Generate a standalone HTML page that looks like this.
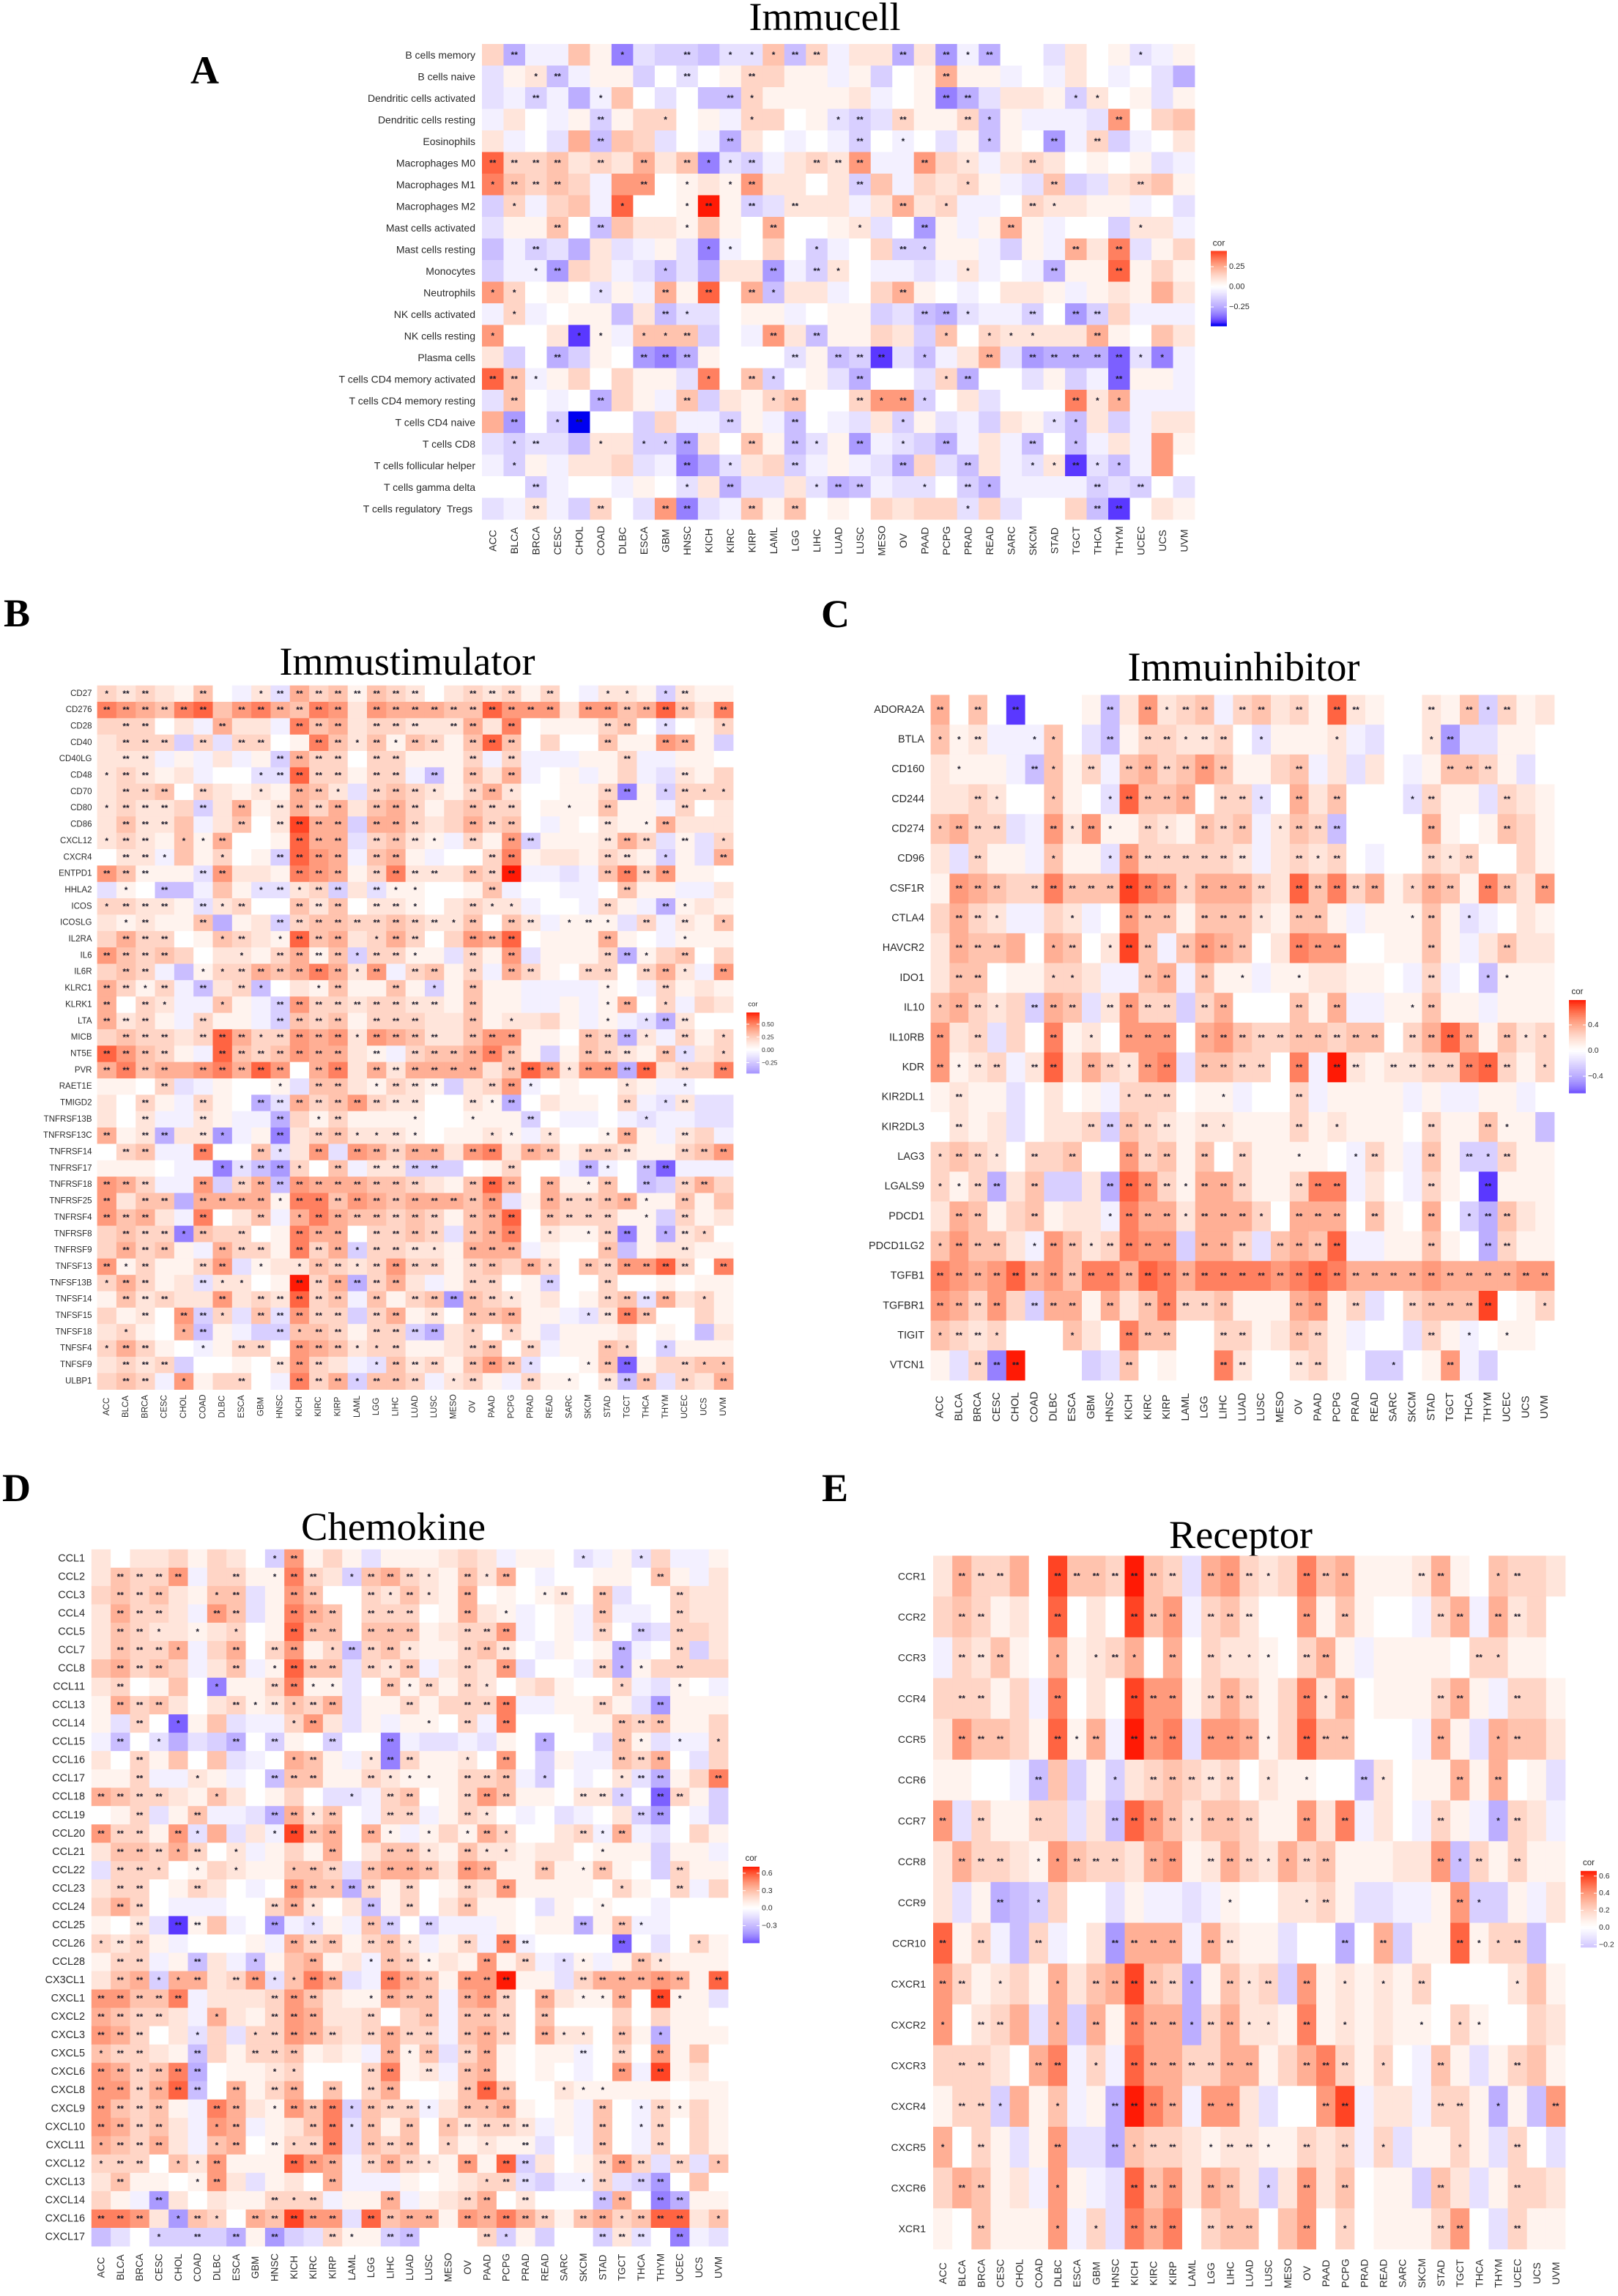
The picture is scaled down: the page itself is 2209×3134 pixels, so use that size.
<!DOCTYPE html>
<html lang="en">
<head>
<meta charset="utf-8">
<title>Immune correlation heatmaps</title>
<style>
html,body{margin:0;padding:0;background:#fff;}
svg{display:block;}
text{font-family:"Liberation Sans",sans-serif;fill:#2a2a2a;}
.serif{font-family:"Liberation Serif",serif;fill:#000;}
</style>
</head>
<body>
<svg id="figure" xmlns="http://www.w3.org/2000/svg" width="2209" height="3134" viewBox="0 0 2209 3134">
<rect x="0" y="0" width="2209" height="3134" fill="#fff"/>
<text class="serif" x="260" y="114" font-size="54" font-weight="bold">A</text>
<text class="serif" x="5" y="855" font-size="54" font-weight="bold">B</text>
<text class="serif" x="1121" y="856" font-size="54" font-weight="bold">C</text>
<text class="serif" x="3" y="2049" font-size="54" font-weight="bold">D</text>
<text class="serif" x="1122" y="2049" font-size="54" font-weight="bold">E</text>
<text class="serif" x="1126" y="41" font-size="54" text-anchor="middle" textLength="207" lengthAdjust="spacingAndGlyphs">Immucell</text>
<text class="serif" x="556" y="921" font-size="54" text-anchor="middle" textLength="349" lengthAdjust="spacingAndGlyphs">Immustimulator</text>
<text class="serif" x="1698" y="929" font-size="56" text-anchor="middle" textLength="317" lengthAdjust="spacingAndGlyphs">Immuinhibitor</text>
<text class="serif" x="537" y="2102" font-size="54" text-anchor="middle" textLength="252" lengthAdjust="spacingAndGlyphs">Chemokine</text>
<text class="serif" x="1694" y="2113" font-size="54" text-anchor="middle" textLength="196" lengthAdjust="spacingAndGlyphs">Receptor</text>
</svg>
<script>
/* Column categories shared by all heatmaps */
const cancerTypes = ["ACC","BLCA","BRCA","CESC","CHOL","COAD","DLBC","ESCA","GBM","HNSC","KICH","KIRC","KIRP","LAML","LGG","LIHC","LUAD","LUSC","MESO","OV","PAAD","PCPG","PRAD","READ","SARC","SKCM","STAD","TGCT","THCA","THYM","UCEC","UCS","UVM"];

/* Cell values are in tenths of each panel's colour limit; star strings hold 0/1/2 significance marks per column */
const immucellRows = ["B cells memory","B cells naive","Dendritic cells activated","Dendritic cells resting","Eosinophils","Macrophages M0","Macrophages M1","Macrophages M2","Mast cells activated","Mast cells resting","Monocytes","Neutrophils","NK cells activated","NK cells resting","Plasma cells","T cells CD4 memory activated","T cells CD4 memory resting","T cells CD4 naive","T cells CD8","T cells follicular helper","T cells gamma delta","T cells regulatory \u00a0Tregs\u00a0"];
const immucellValues = [
[3,-5,-1,-1,4,1,-7,-2,-3,-3,-4,-2,-2,4,-4,3,-1,2,2,-5,2,-6,-1,-5,0,0,-2,2,0,1,-2,-1,1],
[-2,1,2,-4,-1,1,1,-3,0,-2,0,1,3,3,1,1,-1,1,-3,0,1,5,1,1,-1,0,-1,2,0,-1,0,-2,-5],
[-2,-1,-3,-1,-5,-1,4,0,-2,0,-4,-4,3,1,1,1,1,2,-1,0,1,-7,-5,-2,2,2,1,-3,2,0,1,-2,1],
[-1,2,0,-1,1,-3,1,3,3,0,1,-1,3,3,0,1,-2,-3,-2,3,1,1,3,-4,1,-1,-1,-1,-2,6,0,3,4],
[2,-1,0,-2,5,-4,4,3,-2,0,-1,-5,2,0,-1,0,-1,-3,0,-1,0,-2,1,-4,1,0,-6,-1,3,-3,-1,0,2],
[8,3,3,4,2,3,2,5,2,4,-7,-2,-3,-1,2,3,2,6,-1,-1,6,3,2,-1,2,3,2,0,1,0,1,-2,-1],
[7,4,3,4,3,-1,6,6,0,1,2,1,6,2,2,0,2,-3,4,-1,3,2,3,1,-1,-2,4,-3,-2,2,3,4,1],
[-3,3,-1,3,4,-1,8,0,0,1,10,1,-3,-2,2,2,2,-1,2,5,2,3,-1,-1,0,3,2,2,1,1,-1,0,-2],
[-2,1,1,4,0,-4,4,2,2,1,4,1,0,5,0,0,1,2,-2,0,-6,1,-1,1,5,1,-1,0,0,-3,2,2,-1],
[-4,-1,-3,-2,-5,2,-2,-1,1,-2,-7,-1,0,3,0,-3,-1,0,3,-3,-3,1,1,-1,-3,1,-1,5,2,7,-2,1,3],
[-3,-1,-1,-6,3,2,-1,-2,-4,-2,-5,2,2,-6,-1,-3,2,0,-1,-1,-2,-1,2,-1,0,-1,-5,1,1,8,1,3,1],
[6,3,0,1,0,-2,1,-1,5,1,8,0,5,-4,2,2,-1,0,3,5,1,0,-1,0,2,2,1,-1,1,2,1,5,2],
[-1,3,-1,0,1,1,-4,2,-4,-2,-2,0,1,1,-1,0,1,1,-3,-2,-4,-5,-2,-1,-1,-3,0,-6,-3,3,-1,-1,-1],
[6,0,0,2,-9,1,-1,4,4,4,-3,0,-1,6,2,-4,1,1,3,2,-3,4,0,3,2,2,2,2,5,1,0,4,2],
[2,-3,0,-5,-3,1,0,-6,-7,-5,1,0,0,0,-2,1,-4,-3,-9,-2,-4,-1,2,5,-2,-6,-5,-5,-5,-8,-2,-7,-1],
[8,4,-1,1,3,0,3,1,1,-2,7,0,4,-3,0,1,-2,-5,0,0,-2,3,-5,0,0,-2,1,-3,-1,-8,1,1,-1],
[-2,4,0,-1,0,-5,3,1,-1,4,-3,2,1,3,4,0,0,3,6,6,-3,0,2,-2,0,0,0,7,2,5,-1,-1,-1],
[5,-6,0,-3,-10,0,0,-3,3,-1,-1,-3,1,-1,-4,0,-1,-2,2,-3,1,-2,-1,-3,2,1,-2,-4,2,-3,-1,2,2],
[-2,-3,-2,-2,-4,2,2,-3,-3,-6,2,0,4,1,-4,-2,1,-6,-1,-2,-3,-5,-1,2,-1,-4,0,-4,-1,2,-1,6,1],
[-1,-3,1,-1,2,2,3,-2,-1,-7,-5,-2,2,3,-3,-1,1,-1,-2,-5,3,-2,-4,2,-1,-2,2,-9,-2,-4,-1,6,0],
[0,0,-3,-1,0,0,-1,1,0,-2,2,-5,-2,-2,2,-2,-5,-4,-1,-2,-2,0,-3,-5,-1,-1,-1,-1,-3,-2,-3,0,-2],
[-2,-1,2,-1,-3,3,0,-2,6,-7,-2,-1,4,1,4,0,1,0,3,2,3,3,-2,3,-2,0,0,3,-4,-9,0,2,1]
];
const immucellStars = [
"02000010020 11122000202 12000000100","00120000020 02000000002 00000000000","00200100000 21000000002 20000110000","00000200100 01000120200 21000002000","00000200000 20000020100 01002020000","22220202021 12002220020 10020000000","12220002010 12000020000 10002000200","01000010012 02020000201 00021000000","00020200010 00200010020 00200000100","00200000001 10001000210 00000202000","00120000100 00202100000 10002002000","11000100202 02100000200 00000000000","01000000210 00000000022 10020220000","10001101120 00202000001 01110020000","00020002220 00020222010 02022222110","22100000001 02100020001 20000002000","02000200020 00120021210 00000211000","02012000000 20020000100 00001100000","01200101120 02021020102 00020100000","01000000020 10020000200 20011211000","00200000010 20001220010 21000020200","00200200220 02020000000 10000022000"
];

const immustimulatorRows = ["CD27","CD276","CD28","CD40","CD40LG","CD48","CD70","CD80","CD86","CXCL12","CXCR4","ENTPD1","HHLA2","ICOS","ICOSLG","IL2RA","IL6","IL6R","KLRC1","KLRK1","LTA","MICB","NT5E","PVR","RAET1E","TMIGD2","TNFRSF13B","TNFRSF13C","TNFRSF14","TNFRSF17","TNFRSF18","TNFRSF25","TNFRSF4","TNFRSF8","TNFRSF9","TNFSF13","TNFSF13B","TNFSF14","TNFSF15","TNFSF18","TNFSF4","TNFSF9","ULBP1"];
const immustimulatorValues = [
[3,2,3,2,1,4,0,-1,2,-2,5,3,4,1,4,3,2,0,2,3,2,3,1,3,0,-1,2,2,1,-3,2,1,1],
[7,6,5,4,7,8,4,6,7,5,4,7,6,2,6,5,5,5,4,4,8,6,6,6,2,6,6,4,5,8,4,2,7],
[3,3,3,0,2,-1,5,2,2,-1,7,4,5,2,3,3,2,2,2,5,2,7,0,1,1,1,3,4,0,-2,0,1,3],
[2,3,3,3,-3,3,-2,3,3,0,1,7,4,2,4,1,4,3,1,4,8,4,0,3,0,0,4,1,1,6,5,1,-3],
[2,2,2,-1,1,-1,2,-1,1,-3,5,3,3,0,3,3,1,1,1,3,-1,3,-1,-1,-1,1,1,3,-1,-1,1,1,0],
[2,3,2,1,2,-1,0,0,-2,-2,8,3,3,1,3,3,-1,-4,1,4,2,5,-1,0,1,-1,1,3,-1,-2,2,1,3],
[2,3,3,4,0,3,2,1,2,1,5,4,2,-2,3,4,3,2,1,3,5,2,0,0,1,1,3,-7,1,-3,3,3,3],
[2,3,2,2,3,-3,2,5,1,2,5,3,5,2,4,5,3,1,3,4,3,3,0,1,1,1,4,1,1,-1,3,0,2],
[2,4,2,2,4,-1,2,4,0,2,9,5,5,-3,5,5,3,2,3,5,3,4,0,-1,1,0,2,1,1,5,2,2,2],
[2,3,2,1,4,1,5,0,0,1,8,5,5,-2,3,4,2,1,-1,3,1,6,-3,1,1,1,2,5,3,-2,1,-2,3],
[0,2,2,-1,4,1,3,0,1,-3,8,6,5,-1,4,5,1,-1,0,0,3,7,1,2,2,1,3,2,1,-3,1,-2,5],
[6,4,1,1,1,-2,6,2,2,1,7,6,5,1,3,7,2,2,2,4,3,10,-1,-1,-2,-1,4,7,3,6,1,1,0],
[-2,1,0,-4,-4,-1,4,1,-2,-2,2,3,-3,2,-2,1,1,0,0,1,4,-1,0,0,-1,-1,0,4,1,1,-1,-1,2],
[3,3,2,2,1,-2,2,3,0,0,4,2,4,0,2,2,1,0,2,3,2,2,-1,0,0,-1,3,1,-1,-5,1,2,1],
[2,1,2,1,1,4,-5,1,2,-3,3,4,4,3,3,4,3,2,2,4,0,4,2,-1,1,1,1,-2,3,-1,2,1,4],
[3,5,3,3,0,1,4,3,2,1,8,4,5,2,3,5,3,0,3,6,5,8,0,1,1,1,5,1,0,-1,1,1,1],
[6,4,3,4,3,0,2,2,1,3,5,1,4,-3,3,3,1,1,-2,3,1,6,-2,1,1,1,3,-5,1,3,4,0,3],
[3,4,3,-1,-4,1,3,3,5,4,5,7,5,2,6,-1,3,4,1,3,-1,5,3,1,0,3,3,0,3,5,2,-1,6],
[5,3,1,3,-1,-4,2,3,-4,0,2,1,4,1,1,4,1,-3,1,4,1,1,-1,-1,-1,-1,1,0,-1,3,1,2,1],
[5,0,3,2,-1,-1,4,1,-1,-3,6,3,3,2,3,3,2,2,1,4,1,1,-1,-1,1,-1,1,5,0,3,-1,3,2],
[5,2,3,1,-1,3,1,1,-1,-3,4,3,4,1,3,3,3,2,2,4,1,2,2,3,1,-1,1,-1,-2,-5,2,0,0],
[3,4,3,3,2,3,8,5,3,3,6,5,6,2,6,5,4,2,2,4,6,6,1,1,0,4,3,-5,2,-1,3,1,3],
[8,6,4,3,1,-1,8,4,3,4,6,5,5,2,1,-1,3,4,4,5,7,4,1,-3,1,4,3,2,1,4,-2,2,3],
[5,7,4,5,5,6,7,5,8,6,0,5,7,2,5,2,5,5,5,5,2,4,8,6,2,6,6,-5,8,2,3,3,7],
[1,1,0,3,-2,-1,1,0,0,1,-2,4,4,2,1,3,2,1,-3,2,3,6,-1,0,1,0,0,2,1,-1,-1,0,0],
[2,0,3,1,-1,3,1,0,-5,-2,5,3,4,6,3,2,2,0,0,2,1,-5,0,2,1,1,0,3,-1,-2,2,-2,-2],
[2,0,2,-1,-1,2,1,-1,-1,-5,3,1,3,1,1,1,1,0,0,1,1,1,-3,0,-1,-1,0,-1,-2,-1,-1,-2,-2],
[5,1,2,-5,2,2,-6,-1,1,-7,2,3,4,2,2,2,1,0,1,1,2,1,-1,2,0,0,1,5,1,-1,2,3,-1],
[0,3,4,-1,-1,7,0,0,4,-2,2,6,-2,6,5,3,5,5,2,6,7,2,5,4,1,3,3,2,1,1,3,4,6],
[1,1,1,0,-1,-1,-7,-2,-4,-6,3,0,4,-1,2,2,-3,-3,-3,0,1,3,0,0,-1,-5,-1,0,-4,-8,-1,-1,-1],
[6,5,3,-1,-1,6,-3,3,5,-4,6,5,5,5,4,4,3,2,1,4,8,5,0,5,1,1,4,0,-4,-3,3,5,3],
[6,2,4,4,-5,5,5,5,5,1,7,7,4,6,5,4,5,5,5,4,6,-2,1,5,3,3,4,5,1,1,4,1,4],
[6,4,5,2,-1,7,0,2,4,-1,5,7,5,4,4,3,4,3,1,4,5,8,0,4,3,3,3,1,1,-3,3,1,2],
[3,4,3,3,-7,4,3,3,0,1,7,5,5,0,3,3,4,3,-2,4,5,7,0,2,1,1,3,-7,1,-5,2,3,0],
[3,5,3,4,1,-1,5,3,3,1,7,3,5,-3,3,3,2,2,1,5,5,5,-1,1,0,0,4,-4,1,2,2,1,1],
[6,1,3,1,1,3,6,-2,1,2,2,4,3,2,3,6,3,3,1,3,4,3,5,3,0,4,3,6,6,8,3,0,7],
[3,5,3,1,2,-2,2,2,0,1,10,3,5,-5,3,5,2,-1,1,3,3,0,1,-3,0,0,3,0,0,1,0,1,1],
[1,4,2,3,2,2,6,2,3,2,8,3,4,-1,4,1,3,4,-6,4,3,2,1,2,0,1,3,4,-2,5,2,3,1],
[3,1,2,0,6,-3,3,-2,4,-2,6,3,3,-3,3,5,1,2,0,4,4,5,1,1,-1,-2,2,7,4,0,0,3,1],
[2,3,1,0,5,-4,1,-1,-3,-3,4,4,3,1,3,3,-3,-5,2,3,0,3,1,-2,1,1,1,2,0,1,0,-4,2],
[3,5,3,1,0,-1,1,3,3,0,6,5,4,2,3,3,1,1,2,3,4,0,3,-1,1,1,4,3,0,-3,1,1,1],
[2,3,2,3,-3,0,0,1,0,2,6,3,2,-1,-2,4,2,3,1,4,6,4,-2,0,0,1,4,-8,1,3,3,4,4],
[3,4,3,-1,6,1,3,3,0,-1,7,3,5,-3,4,4,3,-1,2,3,1,-1,3,1,1,0,2,-4,4,-2,3,2,5]
];
const immustimulatorStars = [
"12200200122 22222200222 02001101200","22222202222 22022222222 22022222202","02200020002 22022202202 00002201001","02220202200 22121220222 00002002200","02200000022 22022000202 00000200000","12200000122 22022020202 00000000200","02220200102 21022210221 00002201211","12220202022 22022200222 00102000200","02220002022 22022200222 00002012000","12201120002 22022210202 20002220201","02210010022 22022000022 00002201002","22200220002 22022220222 00002222000","01020000121 22021100020 00000200000","12220212002 22022100211 00002002100","01200200022 22222221202 20121020201","02220012012 22012200222 00002000100","22220001022 22122100202 00002210200","02200112222 22120220202 20022022102","22120202100 12002010200 00001002000","20210010022 22222220200 00001201000","22200200022 22022200201 00001012200","02220222122 22122220222 00022210201","22220022222 22020222222 00022202101","22220222220 22022222202 22122220202","00020000010 22012220022 10000100100","00200200222 22222200212 00000201200","00200200020 12000100100 20000010000","20220210020 22112100011 01001200200","02200200210 20222220220 22022200222","00000011221 02022220002 00021022000","22200202222 22222200222 02012020220","20220222212 22222222220 02222210200","22200200201 22222220222 02222010200","02221202002 22022220222 01012201210","02220022202 22122210222 00002000200","21200220101 22122220220 21022222202","12200211002 22222000220 02002000000","02220020222 22020222221 00002222010","00202210222 22022020222 00012220000","01001200021 22022220101 00000000000","12200102202 22112000220 20002101000","02220000022 20012220222 10012200211","02201002002 22122201200 20102220202"
];

const immuinhibitorRows = ["ADORA2A","BTLA","CD160","CD244","CD274","CD96","CSF1R","CTLA4","HAVCR2","IDO1","IL10","IL10RB","KDR","KIR2DL1","KIR2DL3","LAG3","LGALS9","PDCD1","PDCD1LG2","TGFB1","TGFBR1","TIGIT","VTCN1"];
const immuinhibitorValues = [
[5,0,4,0,-9,0,0,0,1,-4,2,6,2,3,4,-1,3,4,2,3,1,8,2,1,0,0,2,1,4,-3,3,1,2],
[4,1,2,-1,-1,-1,4,0,-2,-4,1,3,3,2,2,3,0,-2,1,1,1,2,-1,-2,0,0,2,-6,-2,-2,1,1,0],
[2,1,1,1,-1,-4,4,1,3,-1,4,5,3,4,6,4,1,1,3,4,-1,2,-2,2,0,-1,1,4,4,3,1,-2,0],
[2,2,3,2,0,0,4,1,0,-2,8,4,4,5,0,3,3,-2,0,5,2,4,0,0,0,-2,3,1,1,-2,3,2,1],
[4,5,3,3,-2,-1,6,2,6,1,1,3,2,1,4,3,4,-1,2,4,3,-4,0,0,0,0,5,1,0,1,4,3,1],
[2,-2,3,1,1,-1,4,1,1,-2,6,3,3,3,3,3,2,-1,2,3,2,3,0,-1,0,0,3,2,3,0,0,3,1],
[1,6,5,4,3,3,7,4,4,4,9,7,6,3,5,5,5,3,2,8,4,7,3,5,1,3,5,4,1,7,4,2,6],
[3,5,3,2,-1,-1,3,2,-1,0,6,4,4,1,4,4,4,2,1,4,4,1,-1,1,1,1,4,1,-2,-1,0,2,1],
[2,5,4,4,5,0,5,4,0,2,9,4,-1,4,6,5,4,0,2,7,6,6,0,0,1,1,4,1,-1,2,4,2,2],
[2,4,4,0,1,1,3,3,2,-1,-1,4,5,-1,4,1,1,-1,1,1,2,2,1,1,0,-1,3,-1,0,-4,1,1,1],
[4,5,3,2,3,-3,5,4,-2,2,6,3,3,-3,3,5,0,0,0,4,1,5,-1,-1,1,1,4,1,1,-1,1,1,1],
[6,2,3,-2,3,0,7,1,2,0,6,6,6,0,5,6,4,3,3,4,4,3,4,4,0,3,5,8,5,1,4,2,3],
[6,1,2,3,-1,2,8,2,5,3,2,6,7,-2,4,4,3,3,0,7,-1,10,2,1,2,2,3,3,7,8,3,1,3],
[1,2,1,1,-2,0,2,0,1,-1,3,3,3,0,1,1,-1,0,0,3,-1,1,1,1,1,-1,1,-1,-1,1,1,-1,0],
[0,2,1,2,-2,0,2,2,3,-3,4,3,2,1,2,2,1,1,1,3,1,2,1,1,1,0,3,1,1,4,1,1,-4],
[3,4,3,2,0,3,3,4,0,0,6,3,4,1,4,0,3,1,1,1,1,0,-1,3,1,-1,4,1,-3,-3,3,1,1],
[3,1,3,-5,2,4,-3,-3,2,-5,8,6,3,1,5,5,3,1,1,3,7,7,-1,2,0,-1,3,1,0,-9,1,1,1],
[2,5,4,1,3,4,1,2,2,-1,7,5,5,2,5,5,5,3,0,5,5,5,0,4,1,0,5,0,-3,-5,4,2,1],
[4,6,4,4,2,-1,6,4,2,3,7,6,6,-3,5,5,3,-2,4,5,4,8,-1,-1,1,1,4,1,0,-5,3,1,1],
[7,6,5,6,8,5,6,4,7,7,5,8,7,5,7,7,7,7,6,7,8,7,5,5,5,5,6,5,5,5,5,6,6],
[6,5,3,6,3,-3,5,5,1,5,2,4,7,3,3,4,1,1,1,5,6,1,3,-2,0,3,4,4,4,9,0,1,3],
[4,3,2,3,0,0,0,4,2,0,7,4,4,0,0,3,3,1,2,4,3,1,-1,0,0,-2,3,1,-1,0,1,1,0],
[1,-2,3,-7,10,0,0,0,-3,-2,4,0,1,0,0,7,2,0,0,2,3,1,0,-3,-3,0,1,6,-1,-3,0,0,0]
];
const immuinhibitorStars = [
"20202000020 21220220202 20002021200","11200110020 22122010001 00001200000","01000210202 22222000200 00000222000","00210010012 22202210202 00012000200","12220021210 21022201222 00002000200","00200010012 22222200212 00002120000","02220222222 22122220222 22012202202","02210001002 22022210220 00012010000","02220012012 20222200222 00002000200","02200011000 22020100100 00002001100","12210222022 22022000202 00012000000","20200020102 22022222222 22022220211","21220220221 22022220202 20222222201","02000000001 22001000200 00000000000","02000000222 22021000201 00002002100","12210202002 22020200100 12002021200","11220200022 22122200222 00002002000","02200200012 22122210222 02002012200","12220122122 22022202222 00002002200","22222222222 22222222222 22222222222","22220222020 22222000220 20022222001","12210001002 22002200220 00002010100","00222000002 00002200220 00100200000"
];

const chemokineRows = ["CCL1","CCL2","CCL3","CCL4","CCL5","CCL7","CCL8","CCL11","CCL13","CCL14","CCL15","CCL16","CCL17","CCL18","CCL19","CCL20","CCL21","CCL22","CCL23","CCL24","CCL25","CCL26","CCL28","CX3CL1","CXCL1","CXCL2","CXCL3","CXCL5","CXCL6","CXCL8","CXCL9","CXCL10","CXCL11","CXCL12","CXCL13","CXCL14","CXCL16","CXCL17"];
const chemokineValues = [
[2,0,2,2,3,1,3,2,0,-3,6,1,3,1,-2,1,1,1,2,3,2,-1,1,1,0,-2,-1,1,-2,3,-1,-1,1],
[2,4,3,3,6,-1,3,3,1,1,7,3,2,-3,4,5,3,2,1,4,2,5,0,-1,0,0,1,1,0,4,1,-1,2],
[3,4,3,4,2,1,4,4,-2,1,6,4,0,0,3,2,4,2,1,5,0,1,0,1,2,0,4,-2,0,0,3,2,2],
[2,5,3,3,2,-1,6,4,-2,1,7,5,4,0,3,3,3,0,1,5,2,1,-1,0,1,-1,4,-1,-1,0,3,2,2],
[2,4,3,2,2,1,2,3,0,1,8,4,4,0,4,4,4,1,2,3,3,6,-1,0,1,-1,3,0,-3,-2,3,3,2],
[2,4,3,3,5,-1,3,5,0,3,6,1,3,-4,3,4,2,1,1,3,4,2,0,-1,1,0,1,-5,-1,0,3,-3,2],
[4,5,3,4,3,-1,2,4,-1,1,8,4,4,-2,3,2,4,-1,2,3,2,6,-2,0,0,-1,3,-5,1,3,3,3,3],
[2,3,0,1,4,0,-7,1,1,3,7,1,1,-2,0,4,1,3,1,3,2,0,2,3,1,0,0,3,-1,-2,1,0,-1],
[1,5,3,4,2,0,2,3,1,2,4,3,5,-2,1,1,3,1,3,3,3,7,-1,-1,1,1,3,1,-2,-6,1,1,1],
[1,-2,3,0,-8,1,4,-2,-1,-1,3,6,2,-2,1,-1,1,1,0,3,-1,7,0,0,0,1,1,4,3,4,1,1,3],
[-1,-4,0,-2,-5,-2,-3,-5,0,-3,1,0,-3,0,0,-7,-1,-2,-2,-1,-2,1,0,-5,0,0,-2,4,1,-2,-1,-1,3],
[2,0,3,1,4,0,4,-2,-1,0,5,4,1,-1,2,-7,3,1,1,2,0,6,0,-3,1,-1,-1,4,3,5,0,-2,3],
[1,1,3,-1,-1,2,1,-1,0,-4,4,4,1,1,3,2,1,1,1,3,3,4,-1,-3,0,-1,0,2,-2,-5,1,3,7],
[5,4,3,3,2,1,4,2,0,1,3,0,-2,-2,-1,3,4,0,1,3,6,4,1,1,0,2,2,-3,0,-8,3,1,-3],
[0,1,3,-2,1,4,-1,-1,-2,-5,5,2,4,0,-1,3,3,-1,1,3,2,0,-1,0,-2,-1,0,2,-3,-6,0,-1,-3],
[6,3,3,1,6,-2,5,-2,2,-1,9,4,5,0,5,1,-1,1,3,1,5,3,0,0,2,3,-1,5,-1,-2,0,3,1],
[2,4,4,3,5,3,0,2,-1,1,3,1,5,0,2,4,4,2,1,4,2,2,1,2,2,0,1,1,1,-3,1,1,-1],
[-2,3,3,3,0,1,3,2,1,1,4,4,3,-2,4,5,5,4,2,6,5,1,1,4,1,1,4,1,0,-3,3,1,1],
[2,3,3,0,1,3,2,0,-1,0,6,4,4,-5,3,1,3,0,1,3,2,6,1,1,1,1,0,3,1,0,3,-1,3],
[3,5,3,0,-1,-1,-1,0,0,3,5,2,0,2,-4,1,3,0,2,4,1,1,0,-2,1,0,1,0,0,-1,0,0,0],
[1,0,2,-2,-9,1,4,-1,0,-6,-1,-2,1,-1,4,-3,0,-3,-1,-1,-1,1,0,1,1,-5,1,4,-1,-1,0,0,0],
[3,2,3,1,-1,0,0,0,1,-1,5,3,4,1,3,4,2,-1,1,3,-1,7,-1,0,0,0,0,-8,0,-2,0,3,1],
[1,3,3,-1,1,-4,2,-1,-4,1,4,5,1,2,-1,4,3,1,2,1,6,1,3,-1,-2,1,-1,1,4,2,1,1,1],
[2,4,5,-3,5,5,2,3,6,-2,4,7,5,-2,-1,7,5,4,1,6,6,10,1,1,-2,3,5,5,5,6,5,1,8],
[6,6,4,4,7,-1,2,2,2,3,6,4,2,1,1,5,4,4,-1,5,6,3,0,5,2,1,1,5,0,9,1,1,-2],
[5,4,3,3,2,-1,5,2,1,3,6,5,2,2,3,0,3,4,-1,4,4,3,0,4,0,0,0,3,0,3,1,1,0],
[6,5,3,0,2,-2,3,-2,3,3,6,5,3,2,3,5,3,3,-1,4,5,3,0,5,2,2,0,4,1,-5,1,1,1],
[4,3,3,2,1,-4,3,1,3,3,4,1,2,1,-1,5,1,4,-2,3,5,1,0,1,1,-1,0,3,0,6,1,4,0],
[6,5,3,4,7,-5,0,1,1,2,3,0,0,0,3,7,1,2,-1,4,5,1,0,1,0,-1,0,6,-1,9,1,2,0],
[6,6,3,5,8,-4,0,5,1,3,5,0,4,0,3,5,0,0,1,4,8,4,0,0,2,1,1,1,1,1,0,1,1],
[6,4,3,4,1,-1,7,5,2,1,6,4,7,-3,4,3,3,-1,2,4,4,5,1,0,1,-1,4,0,-1,3,1,3,1],
[6,5,3,4,2,-1,6,5,-1,1,2,4,7,-2,4,1,4,0,4,2,3,3,2,-1,1,-1,4,0,-1,3,0,3,1],
[5,4,3,5,2,-1,4,5,0,1,3,3,7,-2,4,3,4,0,3,1,2,1,1,-2,0,-1,4,0,-1,3,0,3,1],
[3,3,3,0,4,2,6,1,1,1,8,6,5,-1,3,5,3,2,1,6,1,8,-3,2,0,1,3,6,3,-2,3,-2,4],
[2,4,1,1,0,1,6,2,-2,1,2,0,5,-1,-1,-1,1,0,1,2,3,3,-2,-3,-1,-1,3,-2,-3,-6,0,4,0],
[3,1,-1,-6,2,0,2,1,1,3,3,3,-1,1,1,5,-1,1,2,3,5,0,2,0,0,0,-4,5,0,-7,-5,1,1],
[7,7,6,2,-6,4,3,0,5,4,9,6,6,-2,8,4,5,5,1,6,5,7,5,3,1,4,5,3,4,8,8,2,4],
[-4,-2,0,-3,-3,-3,-3,-5,1,-6,-3,-2,3,1,1,-3,-4,0,0,0,3,-3,1,-3,0,0,-3,2,-2,0,-7,-1,-2]
];
const chemokineStars = [
"00000000012 00000000000 00010010000","02222002012 20122210212 00000002000","02220012002 20021210200 01202000200","02220022002 22022200201 00002000200","02210101002 22022200222 00002020200","02221002022 01222100222 00000200200","02220002012 22021200202 00002110200","02000010022 11002120210 00000100100","02220002121 22000200222 00002002000","00201000001 20000010202 00000222000","02010002020 02002000000 01000210101","00200000001 20012200102 00000222000","00200100022 20021110222 01000122002","22220010000 00102200222 00022102200","00200200022 12002200210 00000022000","22202100012 22021010121 00021200000","02221201000 02002210211 00001000000","02210101001 22022220220 02012000200","02200200002 21220200202 00000100200","02200000022 10020200200 00001000000","00202200020 10022020000 00020210000","12200000002 22022100202 20000200010","02200200100 20012210020 20110021000","02211202211 22002220222 00022222202","22222000022 20012220222 02011202100","22220010022 20020020222 02000000000","22200100122 22022220222 02110201000","12200200222 00002120220 00020202000","22222200011 00022020220 00000202000","22222202022 02022000222 00111000000","22220022012 22122210212 00002012100","22220012000 22120201222 20002012000","12220012021 22022201010 20002002000","12201120002 22022210202 20002220201","02000120000 02000000012 20012022000","00020000021 20002000220 20002202200","22201210222 22022220222 22022122201","00010202020 02102200021 00002220200"
];

const receptorRows = ["CCR1","CCR2","CCR3","CCR4","CCR5","CCR6","CCR7","CCR8","CCR9","CCR10","CXCR1","CXCR2","CXCR3","CXCR4","CXCR5","CXCR6","XCR1"];
const receptorValues = [
[2,5,3,3,5,0,9,4,4,3,10,4,3,-2,5,6,3,2,3,7,4,5,1,1,1,2,5,1,0,4,3,3,2],
[3,4,3,1,2,0,8,0,2,0,9,4,6,-1,3,4,2,0,0,6,1,4,1,0,0,-1,3,5,-1,5,2,3,0],
[-1,3,2,4,1,0,5,1,2,3,5,0,5,0,3,2,2,1,0,3,5,1,-1,1,1,1,1,0,3,3,1,1,0],
[3,3,3,1,3,-1,7,0,2,0,9,6,6,1,3,5,3,1,3,7,2,5,0,1,1,1,3,5,1,-1,3,3,1],
[2,6,4,4,3,1,8,1,5,-1,10,6,7,-2,6,6,5,1,3,8,4,4,0,0,0,-1,5,1,-2,5,4,4,2],
[1,1,0,0,-1,-4,4,-3,1,-3,2,3,4,3,2,3,0,2,1,1,0,0,-4,2,0,1,1,5,1,5,0,1,-2],
[6,-2,3,1,1,3,3,-2,2,-4,8,6,4,2,4,4,3,1,1,6,2,7,-1,2,0,-1,3,1,-1,-5,3,2,-1],
[2,5,3,3,2,1,6,4,3,3,2,5,6,1,2,5,3,2,5,3,4,1,1,1,2,2,6,-4,3,1,3,1,1],
[2,-2,1,-5,-4,-3,3,0,0,-2,1,-1,-1,-2,-1,1,0,0,2,2,3,1,-2,-2,-1,-1,1,6,-3,-3,1,-1,2],
[8,1,3,-1,-4,3,-1,0,2,-6,5,5,5,-1,5,2,1,1,-2,0,0,-5,0,5,-3,1,1,8,1,3,3,-4,0],
[6,3,1,2,3,1,5,2,4,5,9,4,3,-5,1,4,2,3,-3,6,1,2,1,2,1,3,0,0,0,0,2,4,1],
[6,0,2,3,5,-2,5,-3,5,1,7,5,5,-5,3,5,2,2,1,7,1,2,1,2,1,1,0,3,1,0,0,3,2],
[3,3,3,2,0,5,7,-1,3,-1,8,5,5,3,3,5,5,1,3,5,7,3,1,3,0,-1,4,1,-2,1,3,4,1],
[1,3,3,-3,5,1,4,-1,1,-5,10,7,5,-1,6,6,2,-2,0,0,6,9,-1,2,2,-1,3,3,1,-5,1,-4,6],
[5,0,3,1,-2,1,6,-2,-2,-5,4,3,3,2,1,2,2,1,1,3,2,3,-1,3,-2,1,1,3,1,-2,3,0,-2],
[3,5,4,1,2,-1,6,1,-1,-2,8,4,6,2,5,4,2,-3,2,6,2,4,0,1,1,-3,4,2,-2,1,3,3,2],
[1,0,4,1,1,1,6,-1,3,-2,7,5,7,0,3,4,4,0,4,6,0,3,0,1,1,1,3,6,0,-2,3,1,1]
];
const receptorStars = [
"02220022222 22022210222 00022001200","02200020002 22022200202 00002202200","02220010121 02021110220 00000021000","02200020002 22022200212 00002200200","02220021202 22022210222 00002001200","00000200010 22222010100 21000202000","20200200022 22122200202 00002001200","02220112220 22022211220 00002120200","00020100000 00001000120 00000210000","20200200022 22022000002 02000211200","22010010222 22102120201 01020000100","10220010202 22122110201 00010110000","02200220102 22222200222 01002000200","02210010022 22022000022 00002201002","10200020021 22012210202 01000100200","02200010002 22022010202 00002000200","00200010102 22022200201 00002200200"
];

/* Colour-bar tick values for each panel */
const immucellTicks = [0.25, 0, -0.25];
const immustimulatorTicks = [0.5, 0.25, 0, -0.25];
const immuinhibitorTicks = [0.4, 0, -0.4];
const chemokineTicks = [0.6, 0.3, 0, -0.3];
const receptorTicks = [0.6, 0.4, 0.2, 0, -0.2];

const posRamp = ["#ffffff","#fff3ee","#ffe5db","#ffd5c6","#ffc3ae","#ffaf95","#ff9a7c","#ff8060","#ff6442","#ff4424","#ff1a05"];
const negRamp = ["#ffffff","#f3f0ff","#e6e0ff","#d8cfff","#cabeff","#bcaeff","#aa9aff","#9680ff","#7c60ff","#5a38ff","#0000f0"];

function hex(c){return [parseInt(c.slice(1,3),16),parseInt(c.slice(3,5),16),parseInt(c.slice(5,7),16)];}
function colorOf(level){
  const ramp = level >= 0 ? posRamp : negRamp;
  const a = Math.min(10, Math.abs(level));
  const lo = Math.floor(a), hi = Math.min(10, lo + 1), t = a - lo;
  const p = hex(ramp[lo]), q = hex(ramp[hi]);
  return "rgb(" + p.map((v, i) => Math.round(v + (q[i] - v) * t)).join(",") + ")";
}
const NS = "http://www.w3.org/2000/svg";
const fig = document.getElementById("figure");
function make(tag, attrs, parent, text){
  const el = document.createElementNS(NS, tag);
  for (const k in attrs) el.setAttribute(k, attrs[k]);
  if (text !== undefined) el.textContent = text;
  parent.appendChild(el);
  return el;
}

function drawPanel(p){
  const g = make("g", {}, fig);
  
  
  const colW = (p.x1 - p.x0) / cancerTypes.length;
  const rowH = (p.y1 - p.y0) / p.rows.length;
  const xBand = i => p.x0 + i * colW;
  const yBand = r => p.y0 + r * rowH;
  p.rows.forEach((rowName, r) => {
    const label = make("text", {x: p.labelRight, y: yBand(r) + rowH / 2, "font-size": p.yFont, "text-anchor": "end", "dominant-baseline": "central"}, g, rowName);
    
    
    const marks = p.stars[r].replace(/ /g, "");
    cancerTypes.forEach((col, c) => {
      const level = p.values[r][c] || 0;
      const cell = make("rect", {x: xBand(c), y: yBand(r), width: colW + 0.4, height: rowH + 0.4, fill: colorOf(level)}, g);
      
      
      const n = +marks[c] || 0;
      if (n > 0) {
        const mark = make("text", {x: xBand(c) + colW / 2, y: yBand(r) + rowH / 2 + 4, "font-size": 12, "text-anchor": "middle", "font-weight": "bold", style: "fill:#1a1a2a"}, g, "*".repeat(n));
        
        
      }
    });
  });
  cancerTypes.forEach((col, c) => {
    const cx = xBand(c) + colW / 2;
    const tick = make("text", {transform: "translate(" + cx + "," + p.xLabelY + ") rotate(-90)", "font-size": p.xFont, "text-anchor": "middle", "dominant-baseline": "central"}, g, col);
    
    
  });
  /* colour bar */
  const b = p.bar;
  const yOf = v => b.yZero - v * b.pxPerUnit;
  const topV = (b.yZero - b.top) / b.pxPerUnit, botV = (b.yZero - b.bottom) / b.pxPerUnit;
  const steps = 50;
  for (let i = 0; i < steps; i++) {
    const v = topV + (botV - topV) * (i + 0.5) / steps;
    const seg = make("rect", {x: b.x, y: b.top + (b.bottom - b.top) * i / steps, width: b.w, height: (b.bottom - b.top) / steps + 0.4, fill: colorOf(v / p.limit * 10)}, g);
    
    
  }
  const barTitle = make("text", {x: b.x + b.w / 2, y: b.top - 11, "font-size": b.font + 1, "text-anchor": "middle", "dominant-baseline": "central"}, g, "cor");
  
  
  p.ticks.forEach(v => {
    const y = yOf(v);
    make("line", {x1: b.x, x2: b.x + 4, y1: y, y2: y, stroke: "#fff", "stroke-width": 1}, g);
    make("line", {x1: b.x + b.w - 4, x2: b.x + b.w, y1: y, y2: y, stroke: "#fff", "stroke-width": 1}, g);
    const txt = v === 0 ? (b.digits === 2 ? "0.00" : "0.0") : (v < 0 ? "\u2212" : "") + Math.abs(v).toFixed(b.digits);
    const lab = make("text", {x: b.x + b.w + 3, y: y, "font-size": b.font, "dominant-baseline": "central"}, g, txt);
    
    
  });
}

drawPanel({key:"immucell", x0:658, x1:1631, y0:60, y1:709, limit:0.48, rows:immucellRows, values:immucellValues, stars:immucellStars, ticks:immucellTicks, labelRight:649, yFont:14, xFont:14, xLabelY:738, bar:{x:1653, w:22, top:342.5, bottom:445, yZero:391.5, pxPerUnit:110, font:11, digits:2}});
drawPanel({key:"immustimulator", x0:132.6, x1:1001, y0:935.6, y1:1896.6, limit:0.73, rows:immustimulatorRows, values:immustimulatorValues, stars:immustimulatorStars, ticks:immustimulatorTicks, labelRight:125.5, yFont:11.5, xFont:11.5, xLabelY:1920, bar:{x:1019, w:18, top:1382, bottom:1465, yZero:1433, pxPerUnit:70, font:8.5, digits:2}});
drawPanel({key:"immuinhibitor", x0:1270.6, x1:2122, y0:948.5, y1:1884, limit:0.79, rows:immuinhibitorRows, values:immuinhibitorValues, stars:immuinhibitorStars, ticks:immuinhibitorTicks, labelRight:1262, yFont:14.4, xFont:14.5, xLabelY:1920.5, bar:{x:2142, w:23, top:1365, bottom:1492, yZero:1434, pxPerUnit:87.5, font:10.5, digits:1}});
drawPanel({key:"chemokine", x0:124.8, x1:994, y0:2114.8, y1:3066, limit:0.71, rows:chemokineRows, values:chemokineValues, stars:chemokineStars, ticks:chemokineTicks, labelRight:116, yFont:14.4, xFont:13.5, xLabelY:3095, bar:{x:1014, w:23, top:2548, bottom:2652, yZero:2604.6, pxPerUnit:79.5, font:10.5, digits:1}});
drawPanel({key:"receptor", x0:1274, x1:2137, y0:2123.5, y1:3070, limit:0.66, rows:receptorRows, values:receptorValues, stars:receptorStars, ticks:receptorTicks, labelRight:1264, yFont:14, xFont:14, xLabelY:3103, bar:{x:2158, w:22, top:2553.8, bottom:2658, yZero:2631, pxPerUnit:117, font:10.5, digits:1}});
</script>
</body>
</html>
